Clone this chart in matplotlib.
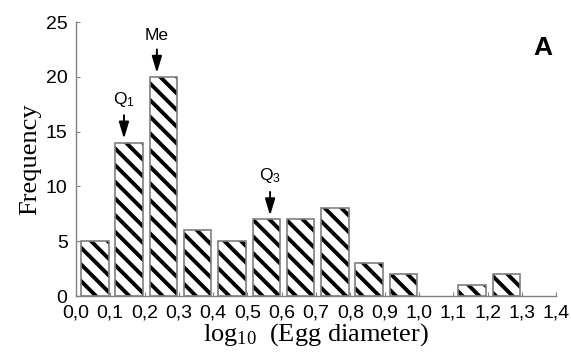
import matplotlib.pyplot as plt
import numpy as np

# histogram of log10 egg diameter
bin_left = [0.0, 0.1, 0.2, 0.3, 0.4, 0.5, 0.6, 0.7, 0.8, 0.9, 1.0, 1.1, 1.2, 1.3]
freq = [5, 14, 20, 6, 5, 7, 7, 8, 3, 2, 0, 1, 2, 0]
xticks = [0.0, 0.1, 0.2, 0.3, 0.4, 0.5, 0.6, 0.7, 0.8, 0.9, 1.0, 1.1, 1.2, 1.3, 1.4]
xticklabels = ['0,0', '0,1', '0,2', '0,3', '0,4', '0,5', '0,6', '0,7',
               '0,8', '0,9', '1,0', '1,1', '1,2', '1,3', '1,4']

# quartile markers (label, x position, bar it points to)
marks = ['Q$_1$', 'Me', 'Q$_3$']
mark_x = [0.14, 0.236, 0.566]
mark_top = [14, 20, 7]

plt.rcParams['hatch.linewidth'] = 2.8
plt.rcParams['font.family'] = 'Liberation Sans'
plt.rcParams['mathtext.default'] = 'regular'

fig = plt.figure(figsize=(5.71, 3.55), dpi=100)
ax = fig.add_axes([0.133, 0.166, 0.841, 0.772])

x = np.array(bin_left) + 0.015
h = np.array(freq)
keep = h > 0
# black hatch, then grey outline on top
ax.bar(x[keep], h[keep], width=0.08, align='edge', color='white',
       edgecolor='black', hatch='\\\\', linewidth=0, zorder=2)
ax.bar(x[keep], h[keep], width=0.08, align='edge', fill=False,
       edgecolor='#7f7f7f', linewidth=1.2, zorder=3)

for lab, mx, top in zip(marks, mark_x, mark_top):
    ax.annotate('', xy=(mx, top + 0.35), xytext=(mx, top + 2.5),
                arrowprops=dict(arrowstyle='-|>,head_width=0.3,head_length=1.0',
                                color='black', lw=1.4, shrinkA=0, shrinkB=0))
    ax.text(mx, top + 3.1, lab, ha='center', va='bottom', fontsize=12.5)

ax.text(1.36, 22.6, 'A', fontsize=19, fontweight='bold', ha='center', va='center')

ax.set_xlim(0, 1.4)
ax.set_ylim(0, 25)
ax.set_xticks(xticks)
ax.set_xticklabels(xticklabels)
ax.set_yticks([0, 5, 10, 15, 20, 25])
ax.tick_params(direction='in', length=3, labelsize=14, color='#808080')
ax.tick_params(axis='x', pad=6)
ax.tick_params(axis='y', pad=6)

for s in ['top', 'right']:
    ax.spines[s].set_visible(False)
for s in ['left', 'bottom']:
    ax.spines[s].set_color('#808080')
    ax.spines[s].set_linewidth(1.0)

ax.set_ylabel('Frequency', family='Liberation Serif', fontsize=19, labelpad=3)
ax.set_xlabel('log$_{10}$  (Egg diameter)', family='Liberation Serif', fontsize=19,
              labelpad=0)

fig.savefig('out.png', dpi=100)
